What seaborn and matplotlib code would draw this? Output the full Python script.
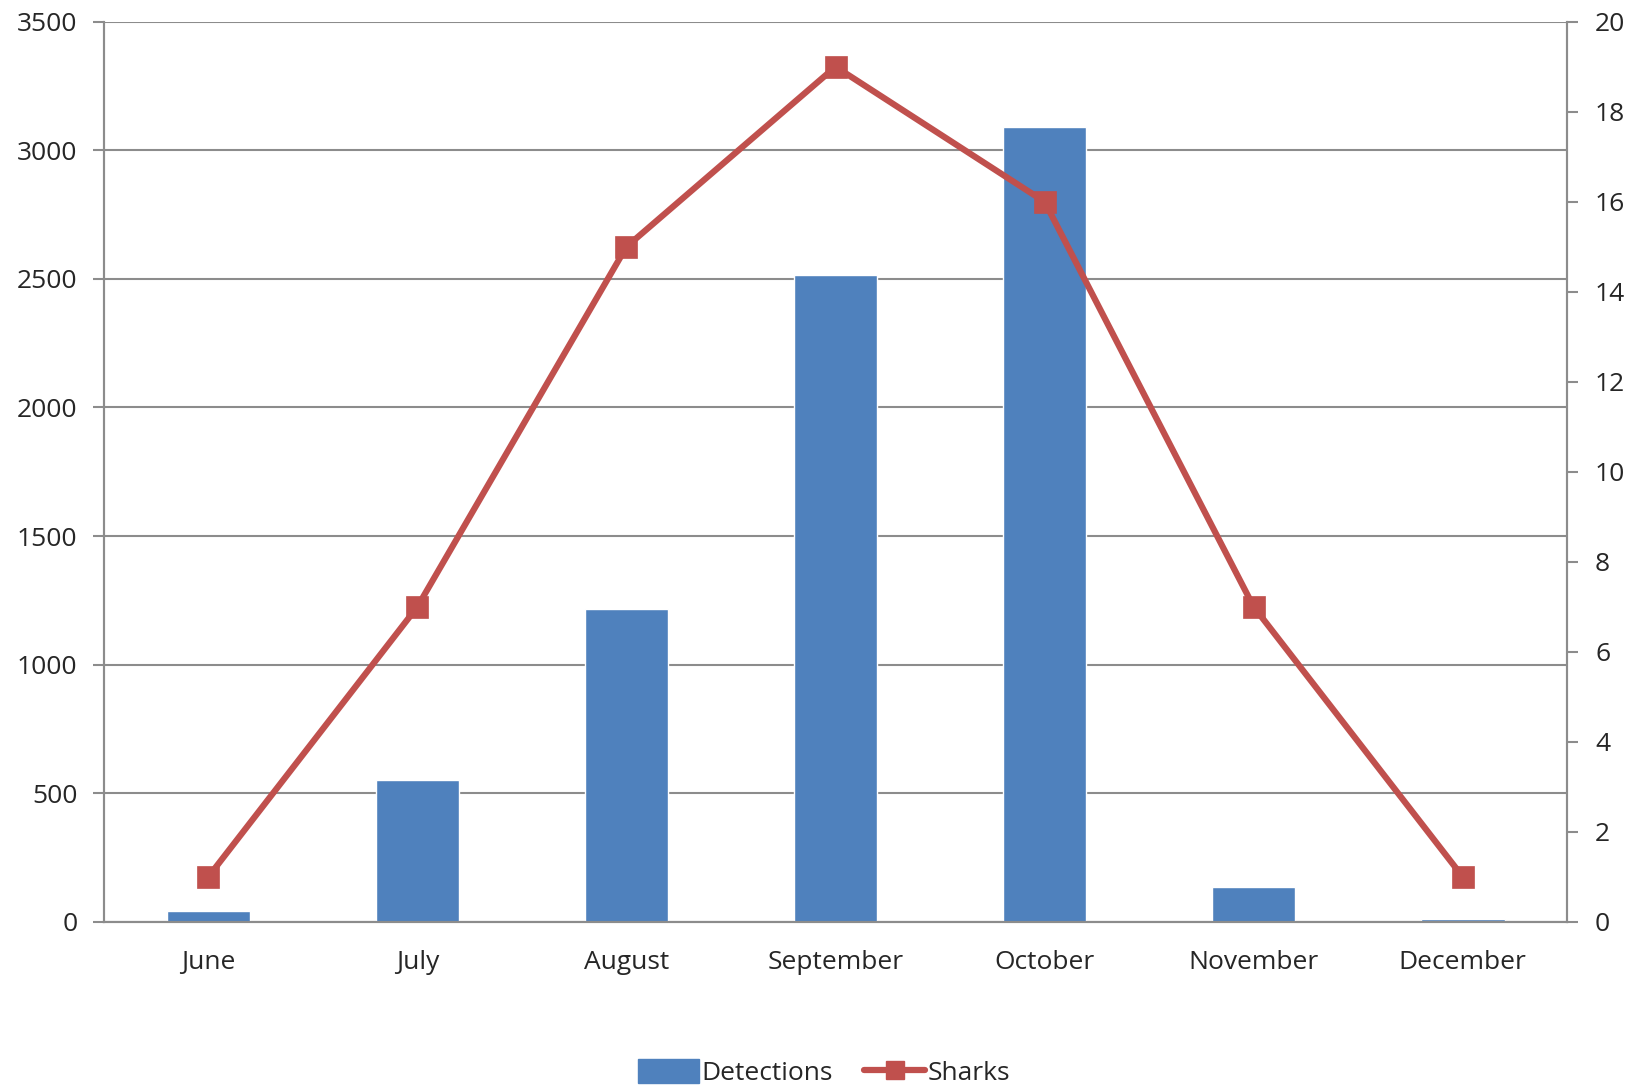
import pandas as pd
import matplotlib.pyplot as plt
import seaborn as sns
from matplotlib.lines import Line2D
from matplotlib.patches import Patch

#------------------------------------------------------------------------------
months = ['June', 'July', 'August', 'September', 'October', 'November', 'December']
detections = [40, 550, 1215, 2515, 3090, 135, 10]
sharks = [1, 7, 15, 19, 16, 7, 1]
#------------------------------------------------------------------------------
df = pd.DataFrame({'month': months, 'detections': detections, 'sharks': sharks})

bar_col = '#4F81BD'
line_col = '#C0504D'
grid_col = '#8C8C8C'
txt_col = '#262626'
fs = 19

sns.set_style('white')
plt.rcParams['font.family'] = ['Open Sans', 'DejaVu Sans']

fig = plt.figure(figsize=(16.48, 10.87), dpi=100)
ax = fig.add_axes([0.063, 0.152, 0.888, 0.828])

sns.barplot(data=df, x='month', y='detections', color=bar_col, saturation=1,
            width=0.4, ax=ax, zorder=2)
ax.set_ylim(0, 3500)
ax.set_yticks(range(0, 3501, 500))
ax.set_xlim(-0.5, 6.5)
ax.yaxis.grid(True, color=grid_col, linewidth=1.5, zorder=0)
ax.set_axisbelow(True)
ax.set_xlabel('')
ax.set_ylabel('')

# tick marks between categories, labels at centres
ax.set_xticks([i - 0.5 for i in range(8)], minor=True)
ax.tick_params(axis='x', which='major', length=0, pad=20, labelsize=fs, colors=txt_col)
ax.tick_params(axis='x', which='minor', length=8, width=1.5, color=grid_col, direction='out')
ax.tick_params(axis='y', length=8, width=1.5, color=grid_col, labelsize=fs,
               labelcolor=txt_col, pad=11, direction='out', left=True)

ax2 = ax.twinx()
sns.pointplot(data=df, x='month', y='sharks', color=line_col, markers='s',
              markersize=13, linewidth=4.5, ax=ax2)
ax2.set_ylim(0, 20)
ax2.set_yticks(range(0, 21, 2))
ax2.set_xlim(-0.5, 6.5)
ax2.set_ylabel('')
ax2.tick_params(axis='y', length=8, width=1.5, color=grid_col, labelsize=fs,
                labelcolor=txt_col, pad=12, direction='out', right=True)

for a in (ax, ax2):
    for s in ['left', 'right', 'bottom']:
        a.spines[s].set_color(grid_col)
        a.spines[s].set_linewidth(1.5)
    a.spines['top'].set_visible(False)

handles = [Patch(facecolor=bar_col, edgecolor=bar_col, label='Detections'),
           Line2D([0], [0], color=line_col, linewidth=4.5, marker='s', markersize=13,
                  label='Sharks')]
fig.legend(handles=handles, loc='center', bbox_to_anchor=(0.5, 0.013), ncol=2,
           frameon=False, fontsize=fs, handlelength=2.3, handleheight=1.0,
           handletextpad=0.1, columnspacing=1.2, labelcolor=txt_col)

fig.savefig('out.png', dpi=100, facecolor='white')
